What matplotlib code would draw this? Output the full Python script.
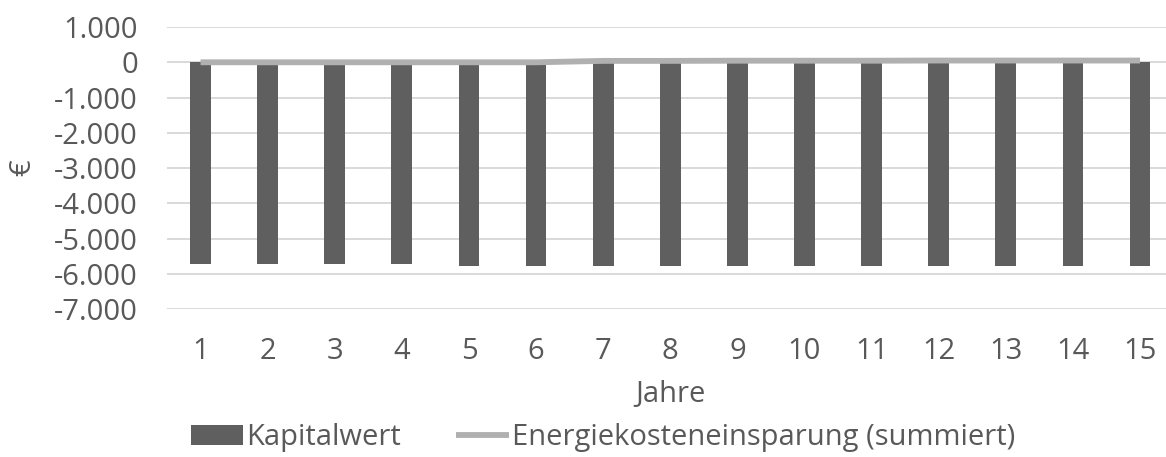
import matplotlib
matplotlib.use("Agg")
import matplotlib.pyplot as plt
from matplotlib.ticker import FuncFormatter

years = list(range(1, 16))
kapitalwert = [-5730, -5730, -5730, -5730, -5760, -5760, -5760, -5760,
               -5760, -5760, -5760, -5760, -5760, -5760, -5760]
energie_summiert = [0, 0, 0, 0, 0, 0, 40, 40, 45, 45, 45, 50, 50, 50, 50]
y_ticks = [1000, 0, -1000, -2000, -3000, -4000, -5000, -6000, -7000]

text_color = "#595959"
plt.rcParams["font.family"] = ["Open Sans", "DejaVu Sans"]

fig = plt.figure(figsize=(11.66, 4.57), dpi=100)
ax = fig.add_axes([0.1432, 0.3232, 0.8633, 0.6177])

bars = ax.bar(years, kapitalwert, width=0.31, color="#5f5f5f", zorder=2,
              label="Kapitalwert")
line, = ax.plot(years, energie_summiert, color="#b0b0b0", linewidth=4.2,
                solid_capstyle="butt", zorder=3,
                label="Energiekosteneinsparung (summiert)")

ax.set_xlim(0.5, 15.5)
ax.set_ylim(-7000, 1000)
ax.set_yticks(y_ticks)
ax.yaxis.set_major_formatter(
    FuncFormatter(lambda v, _: f"{int(v):,}".replace(",", ".")))
ax.set_xticks(years)

ax.grid(axis="y", color="#d9d9d9", linewidth=1.4, zorder=0)
ax.set_axisbelow(True)
for s in ax.spines.values():
    s.set_visible(False)
ax.tick_params(axis="both", length=0, colors=text_color, labelsize=21)
ax.tick_params(axis="y", pad=21)
ax.tick_params(axis="x", pad=20)

ax.set_xlabel("Jahre", color=text_color, fontsize=21, labelpad=10)
ax.set_ylabel("€", color=text_color, fontsize=21, labelpad=12)

fig.legend([bars, line], ["Kapitalwert", "Energiekosteneinsparung (summiert)"],
           loc="center", bbox_to_anchor=(0.517, 0.042), ncol=2,
           frameon=False, fontsize=21, handlelength=1.8,
           handletextpad=0.1, columnspacing=1.9, labelcolor=text_color)

fig.savefig("out.png", dpi=100)
